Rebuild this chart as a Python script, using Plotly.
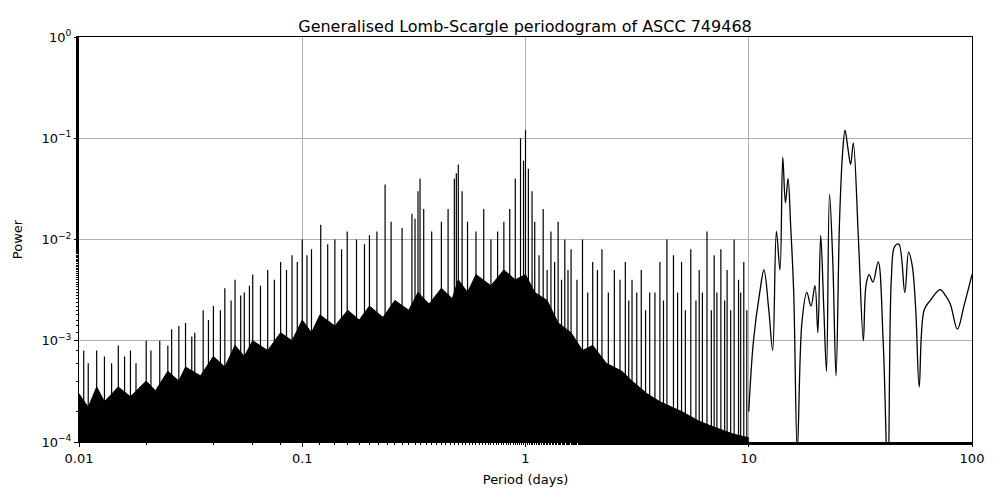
import plotly.graph_objects as go

# dense spike peaks (period days, power)
spike_period = [0.0105,0.011,0.012,0.013,0.014,0.015,0.016,0.017,0.018,0.02,0.021,0.023,0.025,0.026,0.028,0.03,0.032,0.033,0.036,0.038,0.04,0.043,0.045,0.048,0.05,0.053,0.055,0.058,0.06,0.065,0.07,0.075,0.08,0.085,0.09,0.095,0.1,0.105,0.11,0.121,0.13,0.14,0.15,0.159,0.175,0.19,0.2,0.216,0.235,0.25,0.28,0.31,0.32,0.33,0.337,0.35,0.38,0.42,0.45,0.48,0.49,0.5,0.52,0.55,0.6,0.65,0.7,0.75,0.8,0.85,0.9,0.95,0.98,1.0,1.03,1.07,1.1,1.2,1.3,1.4,1.5,1.6,1.8,2.0,2.2,2.5,2.8,3.0,3.3,3.6,4.0,4.3,4.6,5.0,5.5,6.0,6.5,7.0,7.5,8.0,8.6,9.0,9.5,
                1.15,1.25,1.35,1.45,1.55,1.7,1.9,2.1,2.35,2.65,2.9,3.15,3.45,3.8,4.15,4.8,5.2,5.8,6.2,6.8,7.2,7.8,8.3,9.2,9.8]
spike_power = [8e-4,6e-4,8e-4,7e-4,6e-4,9e-4,7e-4,8e-4,6e-4,1e-3,8e-4,1e-3,9e-4,1.3e-3,1.4e-3,1.5e-3,1.1e-3,1.2e-3,2e-3,1.6e-3,2.2e-3,2e-3,3.3e-3,2.5e-3,4e-3,2.8e-3,3e-3,3.5e-3,4.5e-3,3.5e-3,5e-3,4e-3,6e-3,5e-3,7e-3,6e-3,1e-2,7e-3,8e-3,1.4e-2,9e-3,1e-2,8e-3,1.2e-2,1e-2,9e-3,1.1e-2,1.2e-2,3.5e-2,1.5e-2,1.3e-2,1.8e-2,1.6e-2,3e-2,4e-2,2e-2,1.2e-2,1.5e-2,2e-2,4e-2,4.5e-2,5.5e-2,3e-2,1.5e-2,1.2e-2,2e-2,1e-2,1.2e-2,1.5e-2,2e-2,4e-2,1e-1,6e-2,1.2e-1,5e-2,3e-2,1.5e-2,2e-2,1.2e-2,1.5e-2,1e-2,8e-3,1e-2,6e-3,8e-3,5e-3,6e-3,4e-3,5e-3,3e-3,6e-3,1e-2,7e-3,6e-3,8e-3,5e-3,1.2e-2,7e-3,8e-3,5e-3,1e-2,4e-3,6e-3,
               7e-3,5e-3,6e-3,4e-3,5e-3,4e-3,3e-3,5e-3,3e-3,4e-3,2.5e-3,3e-3,2e-3,3e-3,2.5e-3,3e-3,2e-3,2.5e-3,3e-3,2e-3,3e-3,2.5e-3,2e-3,3e-3,2e-3]

# ragged solid envelope of the dense region
env_period = [0.01,0.011,0.012,0.013,0.015,0.017,0.02,0.022,0.025,0.028,0.03,0.035,0.04,0.045,0.05,0.055,0.06,0.07,0.08,0.09,0.1,0.11,0.12,0.14,0.16,0.18,0.2,0.23,0.26,0.3,0.33,0.37,0.42,0.47,0.5,0.55,0.6,0.7,0.8,0.9,1.0,1.1,1.25,1.4,1.6,1.8,2.0,2.3,2.7,3.0,3.5,4.0,5.0,6.0,7.0,8.5,10.0]
env_power = [3e-4,2.2e-4,3.5e-4,2.5e-4,3.5e-4,2.8e-4,4e-4,3.2e-4,5e-4,4e-4,5.5e-4,4.5e-4,7e-4,5.5e-4,9e-4,7e-4,1e-3,8e-4,1.2e-3,1e-3,1.6e-3,1.2e-3,1.8e-3,1.4e-3,2e-3,1.6e-3,2.2e-3,1.7e-3,2.5e-3,2e-3,3e-3,2.3e-3,3.3e-3,2.6e-3,4e-3,3e-3,4.5e-3,3.5e-3,5e-3,4e-3,4.5e-3,3e-3,2.5e-3,1.5e-3,1.2e-3,8e-4,9e-4,6e-4,5e-4,4e-4,3e-4,2.5e-4,2e-4,1.6e-4,1.4e-4,1.2e-4,1.1e-4]

# smooth long-period part
long_period = [10.0,10.5,11.2,11.7,12.3,12.8,13.3,13.8,14.2,14.6,15.0,15.4,15.9,16.5,17.3,18.2,19.0,19.8,20.4,21.0,21.7,22.3,23.0,23.8,24.6,25.5,26.3,27.0,27.8,28.6,29.4,31.0,32.6,33.5,34.6,36.0,38.0,40.0,42.0,43.5,45.0,47.0,50.0,52.0,54.0,56.0,58.0,61.0,65.0,72.0,76.0,80.0,86.0,92.0,100.0]
long_power = [2e-4,1e-3,3e-3,5e-3,2e-3,8e-4,1.2e-2,5e-3,6.5e-2,2.3e-2,4e-2,1.4e-2,3e-3,8e-5,1.5e-3,3e-3,2.2e-3,3.5e-3,1.2e-3,1.1e-2,2e-3,5e-4,2.8e-2,6e-3,4.5e-4,1.5e-2,7e-2,1.2e-1,8e-2,5.5e-2,9e-2,1e-2,1e-3,3.5e-3,4.5e-3,3.8e-3,6e-3,1e-3,4e-5,4e-3,8.5e-3,9e-3,3e-3,7.5e-3,5.5e-3,2e-3,3.5e-4,2e-3,2.5e-3,3.2e-3,2.8e-3,2.3e-3,1.3e-3,2.2e-3,4.5e-3]

sx, sy = [], []
for p, v in zip(spike_period, spike_power):
    sx += [p, p, None]
    sy += [1e-6, v, None]

fig = go.Figure()
fig.add_trace(go.Scatter(x=env_period, y=[1e-6]*len(env_period), mode="lines",
                         line=dict(width=0, color="black"), showlegend=False))
fig.add_trace(go.Scatter(x=env_period, y=env_power, mode="lines", fill="tonexty",
                         fillcolor="black", line=dict(width=1, color="black"), showlegend=False))
fig.add_trace(go.Scatter(x=sx, y=sy, mode="lines", line=dict(width=1.2, color="black"),
                         showlegend=False))
fig.add_trace(go.Scatter(x=long_period, y=long_power, mode="lines", line_shape="spline",
                         line=dict(width=1.3, color="black"), showlegend=False))

axis_common = dict(type="log", showline=True, mirror=True, linecolor="black", linewidth=1,
                   ticks="outside", ticklen=4, tickcolor="black", showgrid=True,
                   gridcolor="#b0b0b0", gridwidth=1, zeroline=False, automargin=False,
                   tickfont=dict(size=13, color="black"))
fig.update_xaxes(**axis_common, range=[-2, 2], tickvals=[0.01, 0.1, 1, 10, 100],
                 ticktext=["0.01", "0.1", "1", "10", "100"],
                 minor=dict(ticks="outside", ticklen=2, tickcolor="black", showgrid=False),
                 title=dict(text="Period (days)", font=dict(size=13, color="black"), standoff=10))
fig.update_yaxes(**axis_common, range=[-4, 0], tickvals=[1e-4, 1e-3, 1e-2, 1e-1, 1],
                 ticktext=["10<sup>−4</sup>", "10<sup>−3</sup>", "10<sup>−2</sup>", "10<sup>−1</sup>", "10<sup>0</sup>"],
                 minor=dict(ticks="outside", ticklen=2, tickcolor="black", showgrid=False),
                 title=dict(text="Power", font=dict(size=13, color="black")))
fig.update_layout(width=1000, height=500, margin=dict(l=71, r=36, t=29, b=66),
                  plot_bgcolor="white", paper_bgcolor="white",
                  font=dict(family="DejaVu Sans", color="black"),
                  title=dict(text="Generalised Lomb-Scargle periodogram of ASCC 749468",
                             x=0.517, xanchor="center", y=0.975, font=dict(size=16)))
fig.write_html("out.html")
